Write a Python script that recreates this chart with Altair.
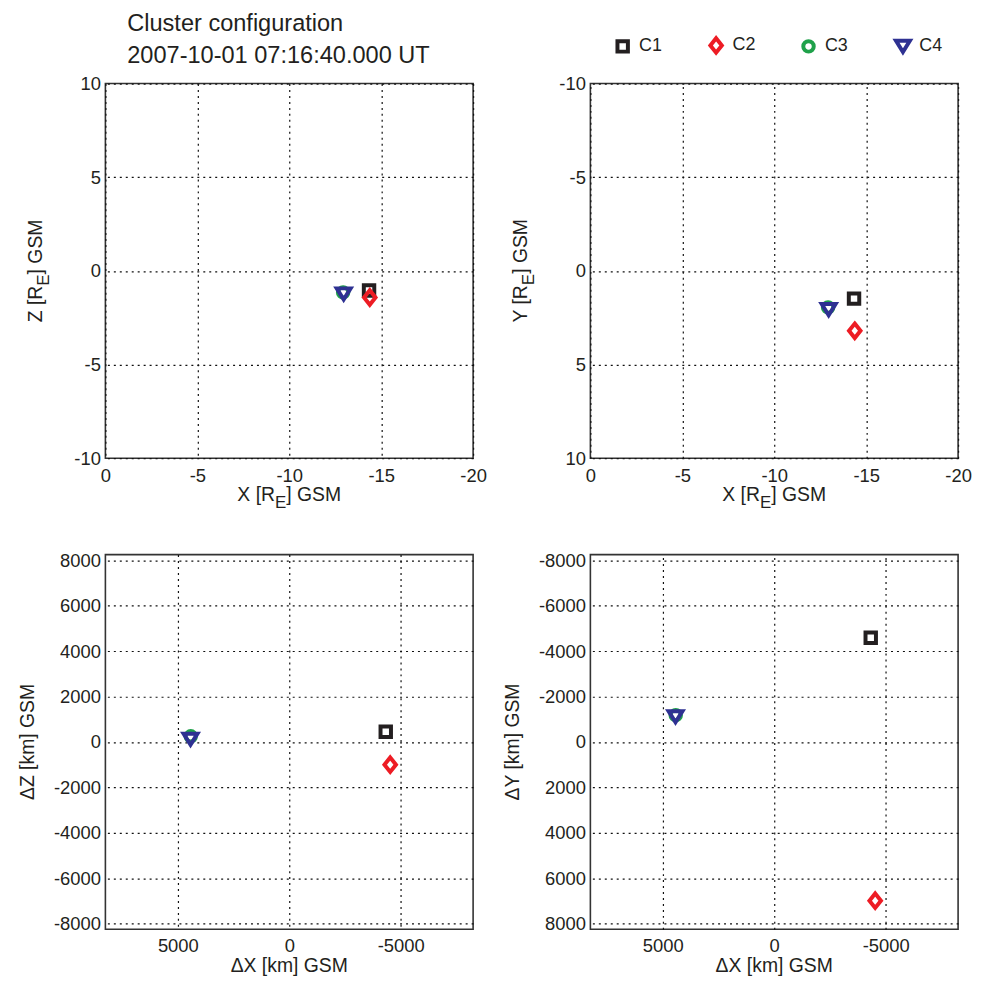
import altair as alt
import pandas as pd

# ---------------- data ----------------
series = ["C1", "C2", "C3", "C4"]
colors = ["#231f20", "#ed1c24", "#1fa14a", "#2e3192"]

# spacecraft positions, R_E GSM (top panels)
x_re = [-14.34, -14.38, -12.93, -12.96]
z_re = [-1.05, -1.42, -1.15, -1.22]
y_re = [1.48, 3.20, 1.95, 2.06]

# positions relative to the centre, km GSM (bottom panels)
dx_km = [-4330, -4530, 4420, 4430]
dz_km = [450, -1000, 250, 130]
dy_km = [-4590, 6990, -1180, -1120]

top_x_ticks = [0, -5, -10, -15, -20]
top_y_ticks = [-10, -5, 0, 5, 10]
bot_x_ticks = [5000, 0, -5000]
bot_y_ticks = [-8000, -6000, -4000, -2000, 0, 2000, 4000, 6000, 8000]

title_lines = ["Cluster configuration", "2007-10-01 07:16:40.000 UT"]

# ---------------- style ----------------
FONT = "Liberation Sans"
TXT = "#231f20"
W, H = 370, 377
TICK_FS = 18.5
TITLE_FS = 19.5
SUB_FS = 17
SUB_DY = 7

shapes = [
    "M-0.7,-0.7L0.7,-0.7L0.7,0.7L-0.7,0.7Z",                      # square
    "M0,-0.97L0.77,0L0,0.97L-0.77,0Z",                             # diamond
    "M0.7,0A0.7,0.7 0 1,1 -0.7,0A0.7,0.7 0 1,1 0.7,0Z",            # circle
    "M-0.93,-0.72L0.93,-0.72L0,0.78Z",                             # triangle down
]

AW = {' ': 278, '[': 278, ']': 278, 'R': 722, 'E': 667, 'X': 667, 'Y': 667,
      'Z': 611, 'G': 778, 'S': 667, 'M': 833}


def tw(s, f):
    return sum(AW.get(c, 556) for c in s) / 1000.0 * f


one = pd.DataFrame({"a": [0]})

legend = alt.Legend(
    orient="none", legendX=511, legendY=-48, direction="horizontal", columns=4,
    title=None, labelFontSize=18, labelFont=FONT, labelColor=TXT, labelOffset=7,
    symbolSize=225, symbolStrokeWidth=4, columnPadding=39, labelLimit=0,
)


def text_piece(text, cx, cy, angle, align, dx, dy, fs):
    return alt.Chart(one).mark_text(
        text=text, align=align, baseline="alphabetic", angle=angle, dx=dx, dy=dy,
        fontSize=fs, font=FONT, color=TXT,
    ).encode(x=alt.value(cx), y=alt.value(cy))


def sub_title(pre, sub, post, cx, cy, angle):
    wa, we, wc = tw(pre, TITLE_FS), tw(sub, SUB_FS), tw(post, TITLE_FS)
    d0 = -(wa + we + wc) / 2 + wa
    return [
        text_piece(pre, cx, cy, angle, "right", d0, 0, TITLE_FS),
        text_piece(sub, cx, cy, angle, "left", d0, SUB_DY, SUB_FS),
        text_piece(post, cx, cy, angle, "left", d0 + we, 0, TITLE_FS),
    ]


def plain_title(text, cx, cy, angle):
    return [text_piece(text, cx, cy, angle, "center", 0, 0, TITLE_FS)]


def panel(xv, yv, xdom, ydom, yrev, xticks, yticks, titles, xpad):
    df = pd.DataFrame({"sc": series, "x": xv, "y": yv})
    pts = alt.Chart(df).mark_point(filled=False, strokeWidth=4, size=225, opacity=1).encode(
        x=alt.X("x:Q", scale=alt.Scale(domain=xdom, reverse=True, nice=False, zero=False),
                axis=alt.Axis(values=xticks, title=None, labelPadding=xpad,
                              labelExpr="'' + datum.value")),
        y=alt.Y("y:Q", scale=alt.Scale(domain=ydom, reverse=yrev, nice=False, zero=False),
                axis=alt.Axis(values=yticks, title=None, labelExpr="'' + datum.value")),
        stroke=alt.Stroke("sc:N", scale=alt.Scale(domain=series, range=colors), legend=legend),
        shape=alt.Shape("sc:N", scale=alt.Scale(domain=series, range=shapes), legend=legend),
    )
    return alt.layer(pts, *titles).properties(width=W, height=H)


XT_TOP = H + 43
XT_BOT = H + 43
YT_TOP = -64
YT_BOT = -72

header = [
    text_piece(title_lines[0], 22, -53, 0, "left", 0, 0, 23.7),
    text_piece(title_lines[1], 22, -21, 0, "left", 0, 0, 23.7),
]

p1 = panel(x_re, z_re, [-20, 0], [-10, 10], False, top_x_ticks, top_y_ticks,
           sub_title("X [R", "E", "] GSM", W / 2, XT_TOP, 0)
           + sub_title("Z [R", "E", "] GSM", YT_TOP, H / 2, 270) + header, 8)
p2 = panel(x_re, y_re, [-20, 0], [-10, 10], True, top_x_ticks, top_y_ticks,
           sub_title("X [R", "E", "] GSM", W / 2, XT_TOP, 0)
           + sub_title("Y [R", "E", "] GSM", YT_TOP, H / 2, 270), 8)
p3 = panel(dx_km, dz_km, [-8250, 8250], [-8250, 8250], False, bot_x_ticks, bot_y_ticks,
           plain_title("\u0394X [km] GSM", W / 2, XT_BOT, 0)
           + plain_title("\u0394Z [km] GSM", YT_BOT, H / 2, 270), 7)
p4 = panel(dx_km, dy_km, [-8250, 8250], [-8250, 8250], True, bot_x_ticks, bot_y_ticks,
           plain_title("\u0394X [km] GSM", W / 2, XT_BOT, 0)
           + plain_title("\u0394Y [km] GSM", YT_BOT, H / 2, 270), 7)

chart = alt.concat(
    p1, p2, p3, p4, columns=2, spacing={"row": 97, "column": 118}, bounds="flush"
).properties(
    padding={"left": 9, "top": 0, "right": 0, "bottom": 0}
).configure_view(
    stroke="#333333", strokeWidth=1.6
).configure_axis(
    grid=True, gridColor="#111111", gridDash=[2, 4], gridWidth=1.2, gridOpacity=1,
    domain=False, ticks=False, tickSize=0,
    labelFontSize=TICK_FS, labelFont=FONT, labelColor=TXT,
    labelFlush=False, labelOverlap=False,
).configure_axisY(labelPadding=5)

chart.save("out.html", embed_options={"renderer": "svg", "actions": False})
